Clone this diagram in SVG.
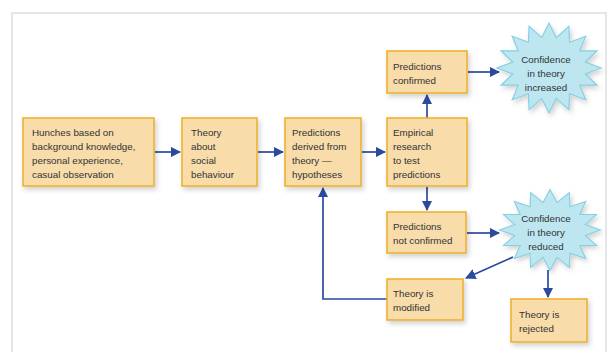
<svg xmlns="http://www.w3.org/2000/svg" width="614" height="352" viewBox="0 0 614 352">
<style>
.box{fill:#f8dcaa;stroke:#eeb232;stroke-width:1.6;filter:url(#sh)}
.star{fill:#bde6f1;stroke:#86d0e2;stroke-width:1.2;filter:url(#sh)}
text{font-family:"Liberation Sans",Arial,sans-serif;font-size:9.8px;fill:#333}
.c{text-anchor:middle}
.con{fill:none;stroke:#2b4a9e;stroke-width:1.7;marker-end:url(#ah)}
</style>
<defs>
<filter id="sh" x="-20%" y="-20%" width="150%" height="160%">
<feDropShadow dx="2" dy="3" stdDeviation="2.5" flood-color="#000" flood-opacity="0.18"/>
</filter>
<marker id="ah" viewBox="0 0 10 10" refX="9" refY="5" markerWidth="6.2" markerHeight="6.2" orient="auto" markerUnits="strokeWidth">
<path d="M0,0 L10,5 L0,10 z" fill="#2b4a9e"/>
</marker>
<polygon id="burst" points="52,0 36.3,6 48,17.2 30.7,17.2 36.8,31.8 20.6,25.8 19.9,41.6 7.2,30.4 0,45 -7.2,30.4 -19.9,41.6 -20.6,25.8 -36.8,31.8 -30.7,17.2 -48,17.2 -36.3,6 -52,0 -36.3,-6 -48,-17.2 -30.7,-17.2 -36.8,-31.8 -20.6,-25.8 -19.9,-41.6 -7.2,-30.4 0,-45 7.2,-30.4 19.9,-41.6 20.6,-25.8 36.8,-31.8 30.7,-17.2 48,-17.2 36.3,-6"/>
</defs>
<rect x="12" y="13" width="594" height="345" fill="#fff" stroke="#e4e6ea" stroke-width="2"/>
<g id="connectors">
<line class="con" x1="155" y1="152" x2="180" y2="152"/>
<line class="con" x1="258" y1="152" x2="283" y2="152"/>
<line class="con" x1="362" y1="152" x2="385" y2="152"/>
<line class="con" x1="427" y1="118" x2="427" y2="95"/>
<line class="con" x1="468" y1="72" x2="499" y2="72"/>
<line class="con" x1="427" y1="187" x2="427" y2="210"/>
<line class="con" x1="467" y1="233" x2="499" y2="233"/>
<line class="con" x1="513" y1="257" x2="466" y2="278"/>
<line class="con" x1="548" y1="270" x2="548" y2="297"/>
<polyline class="con" points="387,299 323,299 323,188"/>
</g>
<g id="hunches">
<rect class="box" x="23" y="118" width="131" height="68"/>
<text x="32" y="135.5">Hunches based on</text>
<text x="32" y="149.8">background knowledge,</text>
<text x="32" y="164.1">personal experience,</text>
<text x="32" y="178.4">casual observation</text>
</g>
<g id="theory">
<rect class="box" x="182" y="118" width="75" height="68"/>
<text x="191" y="135.5">Theory</text>
<text x="191" y="149.8">about</text>
<text x="191" y="164.1">social</text>
<text x="191" y="178.4">behaviour</text>
</g>
<g id="predictions">
<rect class="box" x="285" y="118" width="76" height="68"/>
<text x="292" y="135.5">Predictions</text>
<text x="292" y="149.8">derived from</text>
<text x="292" y="164.1">theory —</text>
<text x="292" y="178.4">hypotheses</text>
</g>
<g id="empirical">
<rect class="box" x="387" y="118" width="80" height="68"/>
<text x="393" y="135.5">Empirical</text>
<text x="393" y="149.8">research</text>
<text x="393" y="164.1">to test</text>
<text x="393" y="178.4">predictions</text>
</g>
<g id="confirmed">
<rect class="box" x="387" y="51" width="80" height="42"/>
<text x="393" y="69.5">Predictions</text>
<text x="393" y="83.5">confirmed</text>
</g>
<g id="increased">
<use href="#burst" class="star" transform="translate(549,68)"/>
<text class="c" x="546" y="62.5">Confidence</text>
<text class="c" x="546" y="76.5">in theory</text>
<text class="c" x="546" y="90.5">increased</text>
</g>
<g id="notconfirmed">
<rect class="box" x="387" y="212" width="79" height="41"/>
<text x="393" y="229.5">Predictions</text>
<text x="393" y="243.5">not confirmed</text>
</g>
<g id="reduced">
<use href="#burst" class="star" transform="translate(550,230) scale(0.97,0.9)"/>
<text class="c" x="546" y="221.5">Confidence</text>
<text class="c" x="546" y="235.5">in theory</text>
<text class="c" x="546" y="249.5">reduced</text>
</g>
<g id="modified">
<rect class="box" x="387" y="279" width="76" height="41"/>
<text x="393" y="296.5">Theory is</text>
<text x="393" y="310.5">modified</text>
</g>
<g id="rejected">
<rect class="box" x="511" y="299" width="76" height="43"/>
<text x="519" y="317.5">Theory is</text>
<text x="519" y="331.5">rejected</text>
</g>
</svg>
